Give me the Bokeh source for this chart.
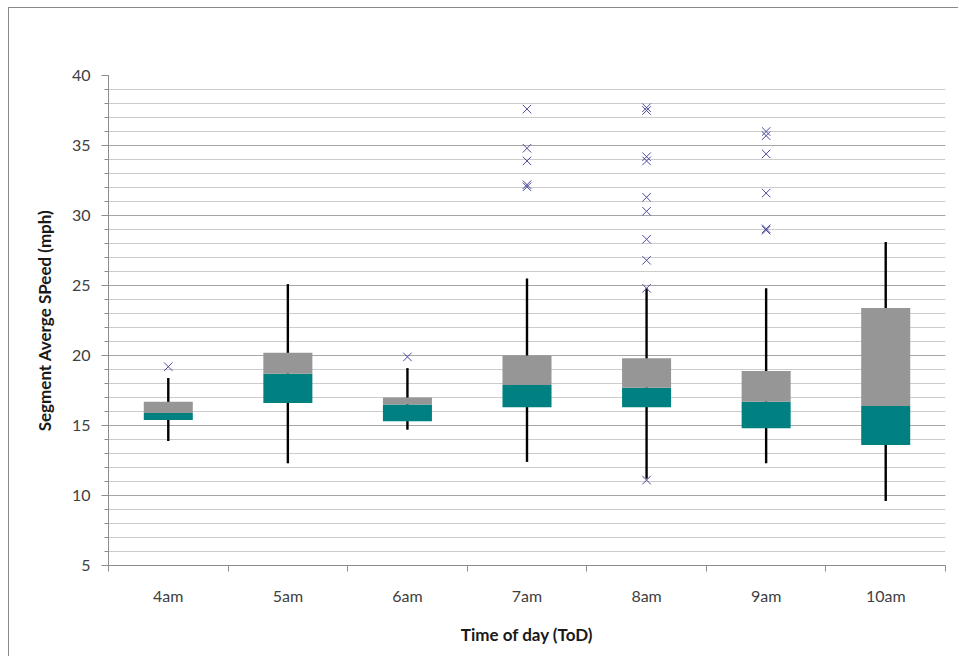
from bokeh.plotting import figure
from bokeh.models import FixedTicker, Range1d, ColumnDataSource
from bokeh.embed import file_html
from bokeh.resources import INLINE

# ---- data ----
cats = ["4am", "5am", "6am", "7am", "8am", "9am", "10am"]
whisker_low = [13.9, 12.3, 14.7, 12.4, 11.2, 12.3, 9.6]
q1 = [15.4, 16.6, 15.3, 16.3, 16.3, 14.8, 13.6]
median = [15.9, 18.7, 16.5, 17.9, 17.7, 16.7, 16.4]
q3 = [16.7, 20.2, 17.0, 20.0, 19.8, 18.9, 23.4]
whisker_high = [18.4, 25.1, 19.1, 25.5, 24.8, 24.8, 28.1]

outlier_cat = ["4am", "6am",
               "7am", "7am", "7am", "7am", "7am",
               "8am", "8am", "8am", "8am", "8am", "8am", "8am", "8am", "8am", "8am",
               "9am", "9am", "9am", "9am", "9am", "9am"]
outlier_val = [19.2, 19.9,
               37.6, 34.8, 33.9, 32.2, 32.05,
               37.7, 37.5, 34.2, 33.9, 31.3, 30.3, 28.3, 26.8, 24.8, 11.1,
               36.0, 35.7, 34.4, 31.6, 29.05, 28.95]

y_major = [5, 10, 15, 20, 25, 30, 35, 40]
y_minor = list(range(5, 41))

# ---- positions through a numeric scale: category i sits at i + 0.5 ----
xc = [i + 0.5 for i in range(len(cats))]
src = ColumnDataSource(dict(x=xc, wl=whisker_low, q1=q1, med=median, q3=q3, wh=whisker_high))
osrc = ColumnDataSource(dict(x=[cats.index(c) + 0.5 for c in outlier_cat], y=outlier_val))

FONT = "Lato"

p = figure(frame_width=837, frame_height=490,
           min_border_left=99, min_border_right=13, min_border_top=67, min_border_bottom=91,
           x_range=Range1d(0, len(cats)), y_range=Range1d(5, 40),
           output_backend="svg", toolbar_location=None, tools="")
p.styles = {"border-left": "1px solid #8a8a8a", "border-top": "1px solid #8a8a8a",
            "margin-left": "8px", "margin-top": "7px"}
p.outline_line_color = None
p.background_fill_color = "white"
p.border_fill_color = "white"

# grid
p.xgrid.grid_line_color = None
p.ygrid.ticker = FixedTicker(ticks=y_major, minor_ticks=y_minor)
p.ygrid.grid_line_color = "#a6a6a6"
p.ygrid.minor_grid_line_color = "#cccccc"

# x axis: labels at centres, ticks at boundaries
p.xaxis.ticker = FixedTicker(ticks=xc, minor_ticks=list(range(len(cats) + 1)))
p.xaxis.major_label_overrides = {x: c for x, c in zip(xc, cats)}
p.xaxis.major_tick_out = 0
p.xaxis.major_tick_in = 0
p.xaxis.minor_tick_out = 6
p.xaxis.minor_tick_in = 0
p.xaxis.major_label_standoff = 14
p.xaxis.axis_label = "Time of day (ToD)"
p.xaxis.axis_label_standoff = 16

# y axis
p.yaxis.ticker = FixedTicker(ticks=y_major, minor_ticks=y_minor)
p.yaxis.major_tick_out = 7
p.yaxis.major_tick_in = 0
p.yaxis.minor_tick_out = 4
p.yaxis.minor_tick_in = 0
p.yaxis.major_label_standoff = 11
p.yaxis.axis_label = "Segment Averge SPeed (mph)"
p.yaxis.axis_label_standoff = 14

for ax in (p.xaxis[0], p.yaxis[0]):
    ax.axis_line_color = "#8c8c8c"
    ax.major_tick_line_color = "#8c8c8c"
    ax.minor_tick_line_color = "#8c8c8c"
    ax.major_label_text_font = FONT
    ax.major_label_text_font_size = "16px"
    ax.major_label_text_color = "#404040"
    ax.axis_label_text_font = FONT
    ax.axis_label_text_font_size = "17px"
    ax.axis_label_text_font_style = "bold"
    ax.axis_label_text_color = "#1a1a1a"

# whiskers
p.segment(x0="x", y0="wl", x1="x", y1="wh", source=src, line_color="black", line_width=2.4)
# boxes
W = 0.41
p.vbar(x="x", bottom="q1", top="med", width=W, source=src, fill_color="#008080", line_color=None)
p.vbar(x="x", bottom="med", top="q3", width=W, source=src, fill_color="#969696", line_color=None)
# outliers
p.scatter(x="x", y="y", source=osrc, marker="x", size=12, line_color="#4a4a9c", line_width=1.0)

open("out.html", "w").write(file_html(p, INLINE))
